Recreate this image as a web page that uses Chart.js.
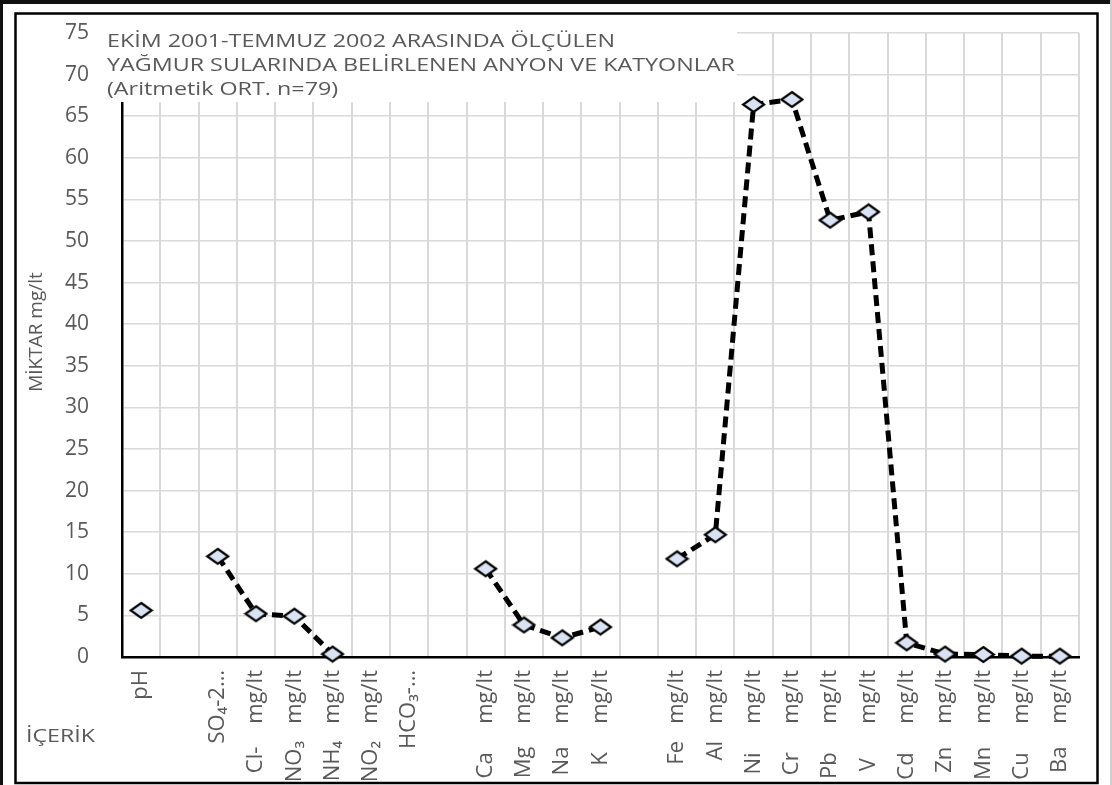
<!DOCTYPE html>
<html>
<head>
<meta charset="utf-8">
<script src="https://cdn.jsdelivr.net/npm/chart.js@4.4.1/dist/chart.umd.min.js"></script>
<style>
  html, body { margin: 0; padding: 0; background: #ffffff; }
  canvas { display: block; }
</style>
</head>
<body>
<canvas id="chart" width="1112" height="785"></canvas>
<script>
// Category labels along the x axis (empty strings are spacer slots)
const categories = [
  'pH', '', 'SO₄-2…', 'Cl-    mg/lt', 'NO₃   mg/lt', 'NH₄   mg/lt',
  'NO₂   mg/lt', 'HCO₃-…', '', 'Ca     mg/lt', 'Mg    mg/lt',
  'Na    mg/lt', 'K     mg/lt', '', 'Fe   mg/lt', 'Al   mg/lt',
  'Ni     mg/lt', 'Cr     mg/lt', 'Pb     mg/lt', 'V      mg/lt',
  'Cd     mg/lt', 'Zn    mg/lt', 'Mn    mg/lt', 'Cu     mg/lt', 'Ba    mg/lt'
];

// Arithmetic mean values (n=79); null = no measurement / gap
const meanValues = [
  5.6, null, 12.1, 5.2, 4.9, 0.35,
  null, null, null, 10.6, 3.85,
  2.3, 3.6, null, 11.8, 14.7,
  66.4, 67.0, 52.5, 53.5,
  1.7, 0.35, 0.3, 0.1, 0.1
];

// Value axis range
const yMin = 0;
const yMax = 75;
const yStep = 5;

// Captions
const titleLines = [
  'EKİM 2001-TEMMUZ 2002 ARASINDA ÖLÇÜLEN',
  'YAĞMUR SULARINDA BELİRLENEN ANYON VE KATYONLAR',
  '(Aritmetik ORT. n=79)'
];
const yAxisTitle = 'MİKTAR mg/lt';
const xAxisTitle = 'İÇERİK';

const GRAY_TEXT = '#595959';
const FONT = '"Open Sans", "Noto Sans", sans-serif';

// Diamond marker drawn once into an offscreen canvas
function makeDiamond(w, h) {
  const c = document.createElement('canvas');
  c.width = w + 4; c.height = h + 4;
  const g = c.getContext('2d');
  const cx = c.width / 2, cy = c.height / 2;
  g.beginPath();
  g.moveTo(cx, cy - h / 2);
  g.lineTo(cx + w / 2, cy);
  g.lineTo(cx, cy + h / 2);
  g.lineTo(cx - w / 2, cy);
  g.closePath();
  g.fillStyle = '#dae3f3';
  g.fill();
  g.lineWidth = 2.2;
  g.strokeStyle = '#000000';
  g.lineJoin = 'miter';
  g.stroke();
  return c;
}
const diamond = makeDiamond(21, 15);

// Text helper: draws a string horizontally scaled by sx
function fillScaled(ctx, text, x, y, sx) {
  ctx.save();
  ctx.translate(x, y);
  ctx.scale(sx, 1);
  ctx.fillText(text, 0, 0);
  ctx.restore();
}

const decorations = {
  id: 'decorations',
  beforeDraw(chart) {
    const ctx = chart.ctx;
    ctx.save();
    ctx.fillStyle = '#ffffff';
    ctx.fillRect(0, 0, chart.width, chart.height);
    ctx.restore();
  },
  beforeDatasetsDraw(chart) {
    // white caption box sitting over the upper-left of the plot
    const ctx = chart.ctx;
    ctx.save();
    ctx.fillStyle = '#ffffff';
    ctx.fillRect(100, 18, 637, 84);
    ctx.fillStyle = GRAY_TEXT;
    ctx.font = '19px ' + FONT;
    ctx.textBaseline = 'middle';
    ctx.textAlign = 'left';
    const sx = 628 / ctx.measureText(titleLines[1]).width;
    const ys = [42, 66, 90];
    titleLines.forEach((t, i) => fillScaled(ctx, t, 107, ys[i], sx));
    ctx.restore();
  },
  afterDraw(chart) {
    const ctx = chart.ctx;
    ctx.save();
    // axis captions
    ctx.fillStyle = GRAY_TEXT;
    ctx.textBaseline = 'middle';
    ctx.font = '19px ' + FONT;
    ctx.textAlign = 'center';
    ctx.save();
    ctx.translate(37, 332);
    ctx.rotate(-Math.PI / 2);
    ctx.fillText(yAxisTitle, 0, 0);
    ctx.restore();
    ctx.textAlign = 'left';
    const sx = 69 / ctx.measureText(xAxisTitle).width;
    fillScaled(ctx, xAxisTitle, 26, 737, sx);

    // frames
    ctx.fillStyle = '#111111';
    ctx.fillRect(0, 0, chart.width, 4);
    ctx.fillRect(0, 0, 3, chart.height);
    ctx.fillStyle = '#cfcfcf';
    ctx.fillRect(1110, 0, 2, chart.height);
    ctx.strokeStyle = '#000000';
    ctx.lineWidth = 2.5;
    ctx.strokeRect(15.5, 13.5, 1082, 769.5);
    ctx.restore();
  }
};

new Chart(document.getElementById('chart'), {
  type: 'line',
  data: {
    labels: categories,
    datasets: [{
      data: meanValues,
      borderColor: '#000000',
      borderWidth: 5,
      borderDash: [11, 6],
      borderCapStyle: 'butt',
      pointStyle: diamond,
      pointRadius: 10,
      pointHoverRadius: 10,
      spanGaps: false,
      tension: 0,
      clip: false
    }]
  },
  options: {
    responsive: false,
    animation: false,
    events: [],
    layout: { padding: { left: 15, right: 33, top: 33, bottom: 2 } },
    plugins: {
      legend: { display: false },
      title: { display: false },
      tooltip: { enabled: false }
    },
    scales: {
      x: {
        type: 'category',
        offset: true,
        grid: {
          display: true,
          offset: true,
          color: '#d9d9d9',
          lineWidth: 2,
          drawTicks: false
        },
        border: { display: true, color: '#000000', width: 2.5 },
        ticks: {
          autoSkip: false,
          minRotation: 90,
          maxRotation: 90,
          padding: 13,
          color: GRAY_TEXT,
          font: { family: FONT, size: 22 }
        },
        afterFit(scale) { scale.height = 126; }
      },
      y: {
        min: yMin,
        max: yMax,
        grid: {
          color: '#d9d9d9',
          lineWidth: 1.5,
          drawTicks: true,
          tickLength: 33,
          tickColor: 'rgba(0,0,0,0)'
        },
        border: { display: true, color: '#000000', width: 2.5 },
        ticks: {
          stepSize: yStep,
          padding: 0,
          color: GRAY_TEXT,
          font: { family: FONT, size: 21 }
        },
        afterFit(scale) { scale.width = 107; }
      }
    }
  },
  plugins: [decorations]
});
</script>
</body>
</html>
